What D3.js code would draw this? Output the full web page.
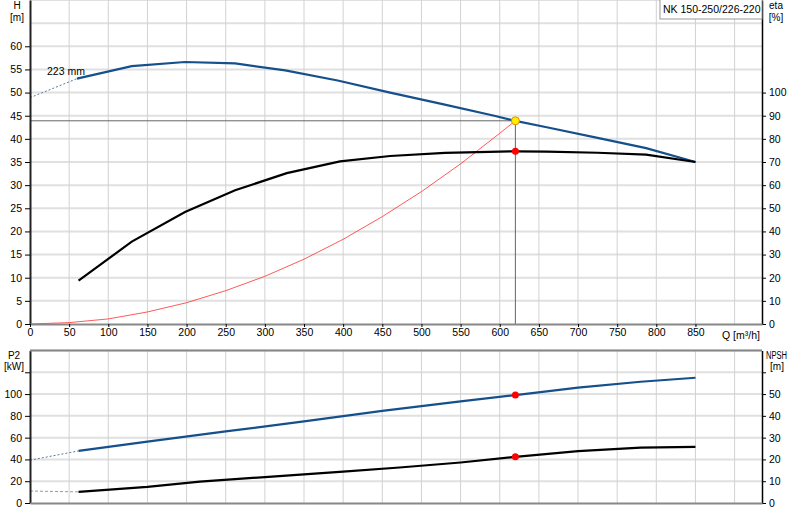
<!DOCTYPE html>
<html>
<head>
<meta charset="utf-8">
<title>NK 150-250 pump curve</title>
<script src="https://d3js.org/d3.v7.min.js"></script>
<style>
  body { margin: 0; background: white; }
  svg { display: block; font-family: "Liberation Sans", Arial, sans-serif; font-size: 10.5px; }
  .tick text { font-size: 10.5px; fill: #000; }
</style>
</head>
<body>
<svg></svg>
<script>
// flow values and curves
const xTicks = d3.range(0, 851, 50)
const hTicks = d3.range(0, 61, 5)
const etaTicks = d3.range(0, 101, 10)
const p2Ticks = d3.range(0, 101, 20)
const npshTicks = d3.range(0, 51, 10)

const qHeadDash = [0, 60]
const headDash = [48.9, 53.0]
const qHead = [60, 130, 198, 262, 326, 393, 460, 527, 593, 620, 660, 725, 787, 850]
const head = [53.0, 55.7, 56.6, 56.3, 54.8, 52.6, 50.0, 47.5, 45.0, 43.9, 42.5, 40.2, 38.0, 35.0]

const qEta = [62, 130, 198, 262, 328, 396, 460, 530, 600, 620, 660, 725, 787, 850]
const eta = [18.7, 35.6, 48.4, 57.8, 65.2, 70.3, 72.6, 73.9, 74.5, 74.6, 74.5, 74.0, 73.2, 70.0]

const qSys = [0, 50, 100, 150, 200, 250, 300, 350, 400, 450, 500, 550, 600, 620]
const hSys = [0, 0.3, 1.1, 2.6, 4.6, 7.2, 10.3, 14.0, 18.3, 23.2, 28.6, 34.6, 41.2, 43.9]

const qP2Dash = [0, 62]
const p2Dash = [39.3, 47.8]
const qP2 = [62, 150, 250, 350, 450, 550, 620, 700, 780, 850]
const p2 = [47.8, 56.3, 65.7, 75.0, 84.5, 93.3, 99.1, 105.9, 111.3, 115.0]

const qNpshDash = [0, 62]
const npshDash = [5.5, 5.1]
const qNpsh = [62, 150, 217, 300, 400, 472, 550, 620, 700, 780, 850]
const npsh = [5.1, 7.4, 9.8, 11.9, 14.4, 16.3, 18.6, 21.2, 23.8, 25.4, 25.8]

const qOp = 620, hOp = 43.9, etaOp = 74.6, p2Op = 99.1, npshOp = 21.2
const title = "NK 150-250/226-220"
const impeller = "223 mm"

let width = 800, height = 520
let svg = d3.select("svg").attr("width", width).attr("height", height)

let blue = "#15508c"

// scales
let x = d3.scaleLinear().domain([0, 935]).range([30, 762])
let yH = d3.scaleLinear().domain([0, 70]).range([324, 0])
let yEta = d3.scaleLinear().domain([0, 140]).range([324, 0])
let yP = d3.scaleLinear().domain([0, 140]).range([503, 350.5])
let yN = d3.scaleLinear().domain([0, 70]).range([503, 350.5])

let zip = (a, b) => a.map((v, i) => [v, b[i]])

//grid
function grid(yScale, values, top, bottom) {
    let g = svg.append("g")
    g.selectAll("line.h").data(values).enter().append("line")
        .attr("x1", x(0)).attr("x2", x(935))
        .attr("y1", d => yScale(d)).attr("y2", d => yScale(d))
        .attr("stroke", "#e0e0e0").attr("stroke-width", 2)
    g.selectAll("line.v").data(d3.range(50, 901, 50)).enter().append("line")
        .attr("x1", d => x(d)).attr("x2", d => x(d))
        .attr("y1", top).attr("y2", bottom)
        .attr("stroke", "#d2d2d2").attr("stroke-width", 1)
}
grid(yH, d3.range(5, 71, 5), 0, 324)
grid(yP, d3.range(20, 141, 20), 350.5, 503)

// operating point guides
svg.append("line").attr("x1", x(0)).attr("x2", x(qOp)).attr("y1", yH(hOp)).attr("y2", yH(hOp))
    .attr("stroke", "#666").attr("stroke-width", 1)
svg.append("line").attr("x1", x(qOp)).attr("x2", x(qOp)).attr("y1", yH(hOp)).attr("y2", yH(0))
    .attr("stroke", "#666").attr("stroke-width", 1)

function curve(pts, yScale, color, w, dash) {
    let p = svg.append("path")
        .datum(pts)
        .attr("fill", "none")
        .attr("stroke", color)
        .attr("stroke-width", w)
        .attr("d", d3.line().x(d => x(d[0])).y(d => yScale(d[1])))
    if (dash) p.attr("stroke-dasharray", dash)
    return p
}

// top panel curves
curve(zip(qSys, hSys), yH, "#ff3030", 1).attr("opacity", 0.8)
curve(zip(qHeadDash, headDash), yH, "#5a77a0", 1, "2,2")
curve(zip(qHead, head), yH, blue, 2.2)
curve(zip(qEta, eta), yEta, "#000", 2.2)

// bottom panel curves
curve(zip(qP2Dash, p2Dash), yP, "#5a77a0", 1, "2,2")
curve(zip(qP2, p2), yP, blue, 2.2)
curve(zip(qNpshDash, npshDash), yN, "#999", 1, "3,2")
curve(zip(qNpsh, npsh), yN, "#000", 2.2)

// points
svg.append("circle").attr("cx", x(qOp)).attr("cy", yEta(etaOp)).attr("r", 3.5).attr("fill", "#ff0000")
svg.append("circle").attr("cx", x(qOp)).attr("cy", yP(p2Op)).attr("r", 3.5).attr("fill", "#ff0000")
svg.append("circle").attr("cx", x(qOp)).attr("cy", yN(npshOp)).attr("r", 3.5).attr("fill", "#ff0000")
svg.append("circle").attr("cx", x(qOp)).attr("cy", yH(hOp)).attr("r", 4)
    .attr("fill", "#ffee00").attr("stroke", "#e09000").attr("stroke-width", 1)

// axes
function styleAxis(g, color, w) {
    g.select(".domain").attr("stroke", color).attr("stroke-width", w)
    g.selectAll(".tick line").attr("stroke", "#000")
}
svg.append("g").attr("transform", "translate(30,0)")
    .call(d3.axisLeft(yH).tickValues(hTicks).tickSize(5).tickSizeOuter(0).tickPadding(3))
    .call(g => styleAxis(g, "#222", 2))
svg.append("g").attr("transform", "translate(762,0)")
    .call(d3.axisRight(yEta).tickValues(etaTicks).tickSize(4).tickSizeOuter(0).tickPadding(3))
    .call(g => styleAxis(g, "#000", 1.5))
svg.append("g").attr("transform", "translate(0,324)")
    .call(d3.axisBottom(x).tickValues(xTicks).tickSize(3).tickSizeOuter(0).tickPadding(2))
    .call(g => styleAxis(g, "#888", 2))

svg.append("g").attr("transform", "translate(30,0)")
    .call(d3.axisLeft(yP).tickValues(p2Ticks.concat([120])).tickSize(5).tickSizeOuter(0).tickPadding(3)
        .tickFormat(d => d == 120 ? "" : d))
    .call(g => styleAxis(g, "#222", 2))
svg.append("g").attr("transform", "translate(762,0)")
    .call(d3.axisRight(yN).tickValues(npshTicks.concat([60])).tickSize(4).tickSizeOuter(0).tickPadding(3)
        .tickFormat(d => d == 60 ? "" : d))
    .call(g => styleAxis(g, "#000", 1.5))
svg.append("g").attr("transform", "translate(0,503)")
    .call(d3.axisBottom(x).tickValues([]).tickSizeOuter(0))
    .call(g => styleAxis(g, "#888", 2))
svg.append("line").attr("x1", 30).attr("x2", 762).attr("y1", 350.5).attr("y2", 350.5)
    .attr("stroke", "#888").attr("stroke-width", 2)

// axis titles
function label(tx, ty, t, anchor, size) {
    return svg.append("text").attr("x", tx).attr("y", ty).attr("text-anchor", anchor || "middle")
        .attr("font-size", size || "10px")
        .attr("fill", "#000").text(t)
}
label(17, 9, "H")
label(17, 21, "[m]")
label(776, 9, "eta")
label(776, 21, "[%]")
label(722, 339, "Q [m³/h]", "start", "10.5px")
label(14, 359, "P2")
label(14, 370, "[kW]")
label(766, 359, "NPSH", "start").attr("textLength", 21).attr("lengthAdjust", "spacingAndGlyphs")
label(777, 370, "[m]")
label(47, 75, impeller, "start", "10.5px")

// title box
svg.append("rect").attr("x", 660).attr("y", -1).attr("width", 102).attr("height", 20)
    .attr("fill", "white").attr("stroke", "#999")
label(663, 13, title, "start", "10.5px")
</script>
</body>
</html>
